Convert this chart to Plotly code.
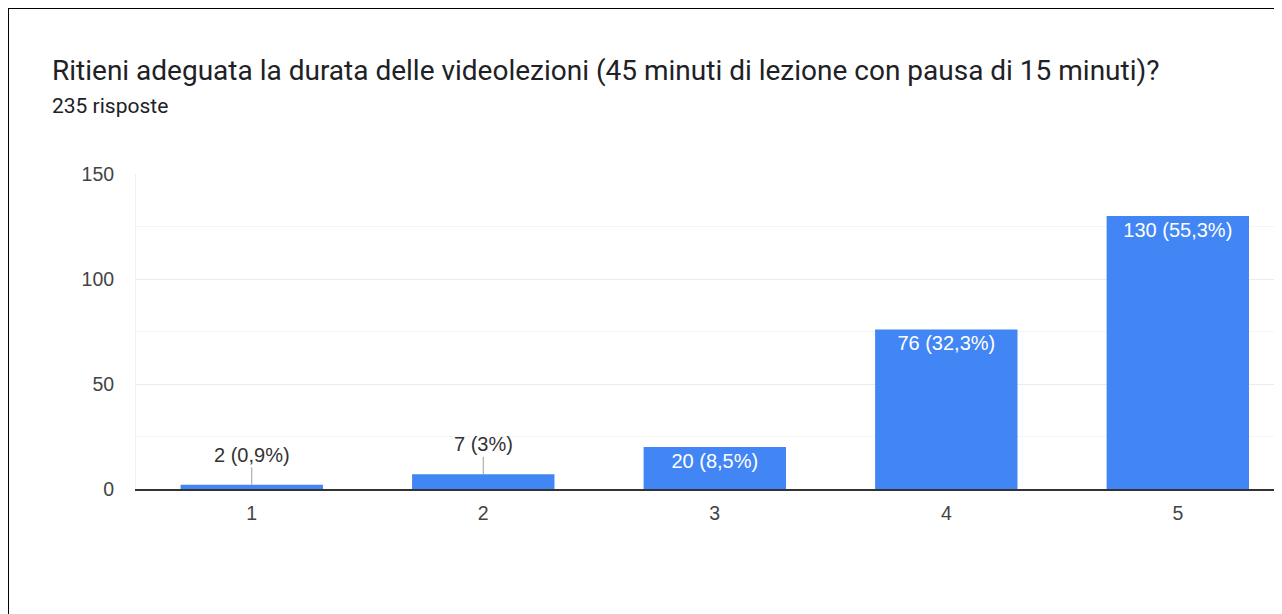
import plotly.graph_objects as go

categories = ['1', '2', '3', '4', '5']
counts = [2, 7, 20, 76, 130]
total = 235
y_ticks = [0, 50, 100, 150]

title = 'Ritieni adeguata la durata delle videolezioni (45 minuti di lezione con pausa di 15 minuti)?'
subtitle = f'{total} risposte'


def pct_label(v):
    p = round(v / total * 100, 1)
    s = f'{p:.1f}'.rstrip('0').rstrip('.').replace('.', ',')
    return f'{v} ({s}%)'


labels = [pct_label(v) for v in counts]
# small bars get the label outside with a leader line
inside = [v >= 15 for v in counts]

label_font = 'Liberation Sans, Arial, sans-serif'
title_font = 'Roboto, sans-serif'

fig = go.Figure()
fig.add_trace(go.Bar(
    x=categories,
    y=counts,
    width=0.615,
    marker=dict(color='#4285F4', line=dict(width=0)),
    text=[l if ok else '' for l, ok in zip(labels, inside)],
    textposition='inside',
    insidetextanchor='end',
    textangle=0,
    textfont=dict(color='white', size=20, family=label_font),
    cliponaxis=False,
))

for i, (v, l, ok) in enumerate(zip(counts, labels, inside)):
    if ok:
        continue
    fig.add_annotation(
        x=i, y=v, xref='x', yref='y',
        text=l, showarrow=True, arrowhead=0, arrowwidth=1,
        arrowcolor='#9e9e9e', ax=0, ay=-30, standoff=0,
        font=dict(size=20, color='#333333', family=label_font),
    )

fig.add_annotation(x=-0.0750, y=1.330, xref='paper', yref='paper', text=title,
                   showarrow=False, xanchor='left', yanchor='middle',
                   font=dict(size=28, color='#202124', family=title_font))
fig.add_annotation(x=-0.0750, y=1.216, xref='paper', yref='paper', text=subtitle,
                   showarrow=False, xanchor='left', yanchor='middle',
                   font=dict(size=21, color='#202124', family=title_font))

# black frame of the screenshot
fig.add_shape(type='rect', xref='paper', yref='paper',
              x0=-0.1117, x1=1.2, y0=-1.0, y1=1.527,
              line=dict(color='black', width=2), fillcolor='rgba(0,0,0,0)', layer='above')

fig.update_layout(
    width=1274, height=606,
    margin=dict(l=128, r=0, t=166, b=125),
    paper_bgcolor='white', plot_bgcolor='white',
    showlegend=False,
    font=dict(family=label_font, color='#444444'),
)
fig.update_xaxes(
    range=[-0.5, 4.45],
    showgrid=False,
    showline=True, linecolor='#333333', linewidth=1.5,
    ticks='', tickfont=dict(size=19.5, color='#444444'),
    ticklabelstandoff=6,
)
fig.update_yaxes(
    range=[0, 150],
    tickvals=y_ticks,
    showgrid=True, gridcolor='#ebebeb', gridwidth=1,
    minor=dict(dtick=25, showgrid=True, gridcolor='#f5f5f5', gridwidth=1),
    zeroline=False,
    showline=True, linecolor='#f0f0f0', linewidth=1,
    ticks='', tickfont=dict(size=19.5, color='#444444'),
    ticklabelstandoff=17,
)

fig.write_html('out.html')
